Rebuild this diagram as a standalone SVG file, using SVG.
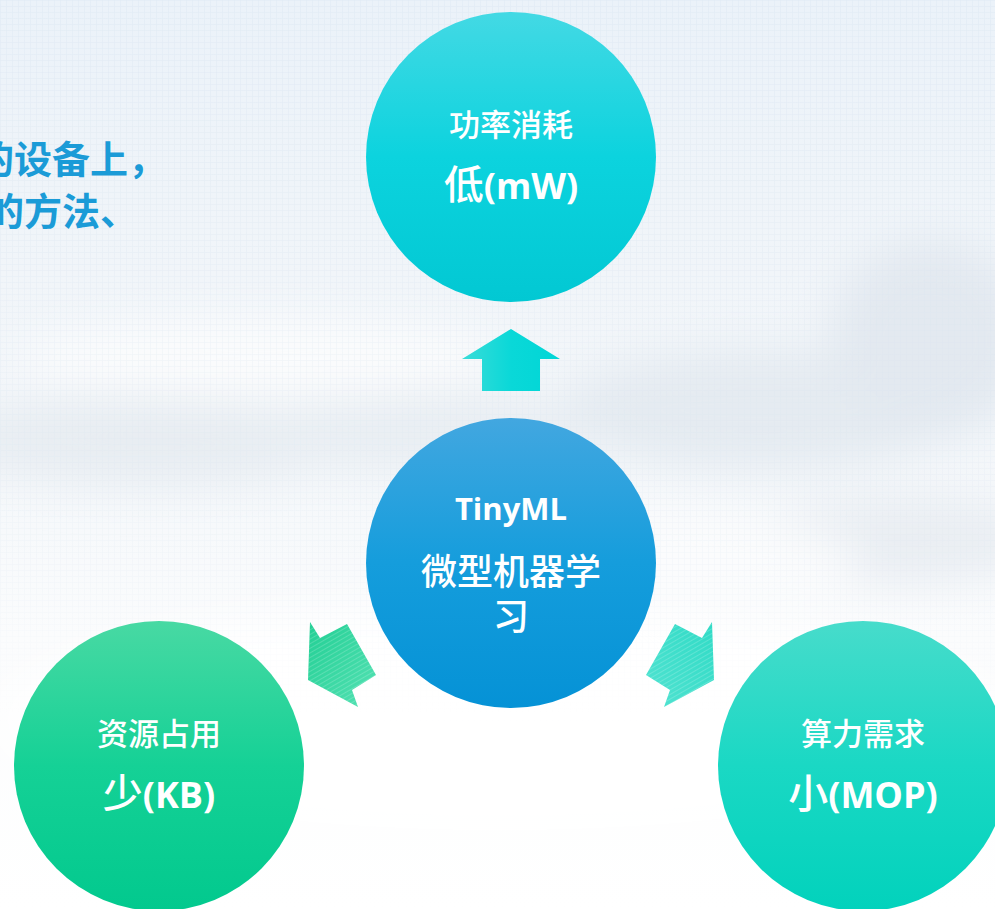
<svg xmlns="http://www.w3.org/2000/svg" width="995" height="909" viewBox="0 0 995 909">
<style>
.lbl{font-family:"Noto Sans CJK SC","Noto Sans",sans-serif;font-weight:500;fill:#ffffff;text-anchor:middle;}
.lat{font-family:"Open Sans","Noto Sans CJK SC",sans-serif;font-weight:bold;}
.intro{font-family:"Noto Sans CJK SC",sans-serif;font-weight:bold;font-size:38px;fill:#1b9bd7;}
</style>
<defs>
<linearGradient id="bg" x1="0" y1="0" x2="0" y2="1">
<stop offset="0" stop-color="#ebf2f9"/>
<stop offset="0.3" stop-color="#f1f5f9"/>
<stop offset="0.5" stop-color="#f4f7fa"/>
<stop offset="0.7" stop-color="#fbfcfd"/>
<stop offset="1" stop-color="#ffffff"/>
</linearGradient>
<pattern id="grid" width="6" height="6" patternUnits="userSpaceOnUse">
<path d="M0 0.5H6M0.5 0V6" stroke="#d8e4f0" stroke-width="0.6" fill="none"/>
</pattern>
<linearGradient id="gridFade" x1="0" y1="0" x2="0" y2="1">
<stop offset="0" stop-color="#fff" stop-opacity="0.55"/>
<stop offset="0.6" stop-color="#fff" stop-opacity="0.25"/>
<stop offset="0.8" stop-color="#fff" stop-opacity="0"/>
</linearGradient>
<mask id="gm"><rect width="995" height="909" fill="url(#gridFade)"/></mask>
<filter id="blur" x="-50%" y="-50%" width="200%" height="200%"><feGaussianBlur stdDeviation="22"/></filter>
<linearGradient id="gTop" x1="0" y1="0" x2="0" y2="1">
<stop offset="0" stop-color="#43d9e4"/>
<stop offset="0.5" stop-color="#0cd3de"/>
<stop offset="1" stop-color="#02c8d3"/>
</linearGradient>
<linearGradient id="gCen" x1="0" y1="0" x2="0" y2="1">
<stop offset="0" stop-color="#42a7e0"/>
<stop offset="0.5" stop-color="#159ddc"/>
<stop offset="1" stop-color="#0592d6"/>
</linearGradient>
<linearGradient id="gLeft" x1="0" y1="0" x2="0" y2="1">
<stop offset="0" stop-color="#48d9a3"/>
<stop offset="0.5" stop-color="#15d196"/>
<stop offset="1" stop-color="#02c98e"/>
</linearGradient>
<linearGradient id="gRight" x1="0" y1="0" x2="0" y2="1">
<stop offset="0" stop-color="#47dccb"/>
<stop offset="0.5" stop-color="#1ad8c4"/>
<stop offset="1" stop-color="#02d2bc"/>
</linearGradient>
<linearGradient id="aTop" x1="0" y1="0" x2="1" y2="0">
<stop offset="0" stop-color="#3adcd8"/>
<stop offset="0.5" stop-color="#0ad8d8"/>
<stop offset="1" stop-color="#00d6d6"/>
</linearGradient>
<linearGradient id="aLeft" x1="0" y1="0" x2="1" y2="1">
<stop offset="0" stop-color="#22cf94"/>
<stop offset="1" stop-color="#55e2b4"/>
</linearGradient>
<linearGradient id="aRight" x1="1" y1="0" x2="0" y2="1">
<stop offset="0" stop-color="#30dbc6"/>
<stop offset="1" stop-color="#52e3d1"/>
</linearGradient>
<pattern id="hatch" width="4" height="4" patternUnits="userSpaceOnUse" patternTransform="rotate(-30)">
<path d="M0 0.5H4" stroke="#ffffff" stroke-opacity="0.18" stroke-width="1"/>
</pattern>
</defs>

<g id="background">
<rect width="995" height="909" fill="url(#bg)"/>
<g filter="url(#blur)">
<ellipse cx="150" cy="440" rx="200" ry="45" fill="#e8edf2"/>
<ellipse cx="420" cy="430" rx="170" ry="40" fill="#e9eef3"/>
<ellipse cx="760" cy="410" rx="200" ry="60" fill="#e5ebf1"/>
<ellipse cx="930" cy="340" rx="100" ry="100" fill="#e3e9f0"/>
<ellipse cx="900" cy="540" rx="140" ry="45" fill="#eaeef3"/>
<ellipse cx="260" cy="360" rx="240" ry="40" fill="#fbfcfd"/>
<ellipse cx="620" cy="560" rx="240" ry="45" fill="#fbfcfd"/>
<ellipse cx="500" cy="720" rx="500" ry="110" fill="#ffffff"/>
</g>
<rect width="995" height="909" fill="url(#grid)" mask="url(#gm)"/>
<text class="intro" x="-24" y="173">的设备上，</text>
<text class="intro" x="-14" y="225">的方法、</text>
</g>

<g id="connectors">
<polygon points="511,329 560,359 540,359 540,391 482,391 482,359 462,359" fill="url(#aTop)"/>
<g>
<polygon points="310,622 320,638 347,624 376,675 352,690 358,707 308,680" fill="url(#aLeft)"/>
<polygon points="310,622 320,638 347,624 376,675 352,690 358,707 308,680" fill="url(#hatch)"/>
</g>
<g>
<polygon points="712,622 702,638 675,624 646,675 670,690 664,707 714,680" fill="url(#aRight)"/>
<polygon points="712,622 702,638 675,624 646,675 670,690 664,707 714,680" fill="url(#hatch)"/>
</g>
</g>

<g id="node-power">
<circle cx="511" cy="157" r="145" fill="url(#gTop)"/>
<text class="lbl" x="511" y="136" font-size="31">功率消耗</text>
<text class="lbl" x="511" y="199" font-size="40">低<tspan class="lat" font-size="36">(mW)</tspan></text>
</g>

<g id="node-center">
<circle cx="511" cy="563" r="145" fill="url(#gCen)"/>
<text class="lbl lat" x="511" y="520" font-size="31">TinyML</text>
<text class="lbl" x="511" y="585" font-size="36">微型机器学</text>
<text class="lbl" x="511" y="630" font-size="36">习</text>
</g>

<g id="node-resource">
<circle cx="159" cy="766" r="145" fill="url(#gLeft)"/>
<text class="lbl" x="159" y="745" font-size="31">资源占用</text>
<text class="lbl" x="159" y="808" font-size="40">少<tspan class="lat" font-size="36">(KB)</tspan></text>
</g>

<g id="node-compute">
<circle cx="863" cy="766" r="145" fill="url(#gRight)"/>
<text class="lbl" x="863" y="745" font-size="31">算力需求</text>
<text class="lbl" x="863" y="808" font-size="40">小<tspan class="lat" font-size="36">(MOP)</tspan></text>
</g>
</svg>
